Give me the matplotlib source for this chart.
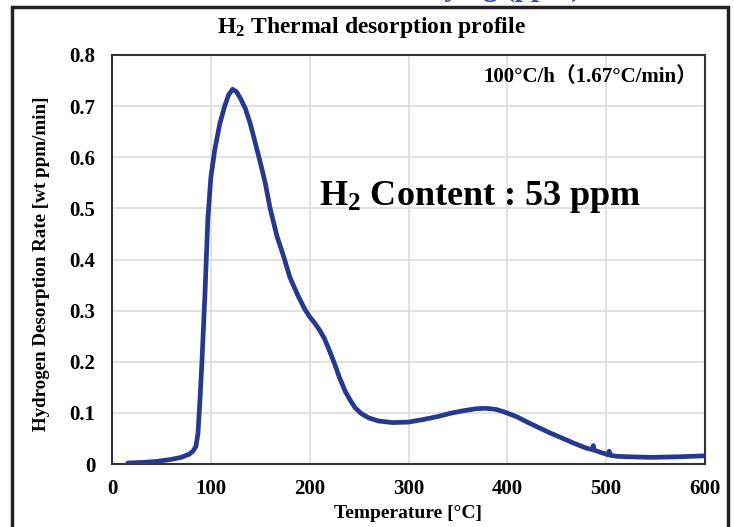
import matplotlib
matplotlib.use("Agg")
import matplotlib.pyplot as plt
from matplotlib.patches import Rectangle

plt.rcParams['font.family'] = ['Liberation Serif', 'Noto Sans CJK JP', 'DejaVu Sans']
plt.rcParams['font.weight'] = 'bold'
plt.rcParams['mathtext.fontset'] = 'custom'
plt.rcParams['mathtext.rm'] = 'Liberation Serif:bold'
plt.rcParams['mathtext.it'] = 'Liberation Serif:bold'
plt.rcParams['mathtext.bf'] = 'Liberation Serif:bold'

# ---- data ----
temperature = [16, 30, 45, 60, 70, 78, 82, 85, 87, 89, 91, 94, 97, 100, 104, 109,
               114, 118, 122, 126, 130, 135, 140, 145, 150, 155, 160, 167, 173, 180,
               188, 195, 200, 205, 210, 215, 220, 225, 230, 236, 241, 246, 252, 260,
               270, 284, 300, 315, 330, 342, 355, 368, 378, 388, 395, 402, 410, 420,
               432, 443, 455, 467, 480, 486, 487, 488, 494, 502, 503, 504, 511, 525,
               545, 572, 600]
rate = [0.002, 0.003, 0.005, 0.009, 0.013, 0.019, 0.025, 0.035, 0.06, 0.125, 0.2,
        0.33, 0.48, 0.56, 0.615, 0.665, 0.70, 0.722, 0.733, 0.728, 0.715, 0.695,
        0.665, 0.628, 0.59, 0.55, 0.50, 0.445, 0.41, 0.365, 0.33, 0.303, 0.288,
        0.276, 0.262, 0.245, 0.222, 0.197, 0.17, 0.142, 0.125, 0.11, 0.099, 0.09,
        0.084, 0.081, 0.082, 0.087, 0.093, 0.099, 0.104, 0.108, 0.109, 0.107,
        0.103, 0.098, 0.092, 0.082, 0.071, 0.061, 0.051, 0.041, 0.031, 0.028,
        0.036, 0.027, 0.023, 0.018, 0.025, 0.017, 0.015, 0.014, 0.013, 0.014, 0.016]
x_ticks = [0, 100, 200, 300, 400, 500, 600]
y_ticks = [0, 0.1, 0.2, 0.3, 0.4, 0.5, 0.6, 0.7, 0.8]
y_tick_labels = ['0', '0.1', '0.2', '0.3', '0.4', '0.5', '0.6', '0.7', '0.8']

W, H = 734, 527
fig = plt.figure(figsize=(W / 100, H / 100), dpi=100)
ax = fig.add_axes([112 / W, 1 - 464 / H, (705 - 112) / W, (464 - 55) / H])

ax.plot(temperature, rate, color='#27398C', lw=3.4, solid_capstyle='round',
        solid_joinstyle='round', zorder=3)

ax.set_xlim(0, 600)
ax.set_ylim(0, 0.8)
ax.set_xticks(x_ticks)
ax.set_yticks(y_ticks)
ax.set_yticklabels(y_tick_labels)
ax.tick_params(length=0, labelsize=15)
ax.tick_params(axis='y', pad=12)
ax.tick_params(axis='x', pad=11)
for lab in ax.get_xticklabels() + ax.get_yticklabels():
    lab.set_fontweight('bold')
ax.grid(True, color='#dcdcdc', lw=1.2, zorder=0)
ax.set_axisbelow(True)
for s in ax.spines.values():
    s.set_color('#333333')
    s.set_linewidth(1.5)

fig.text(408 / W, 1 - 514 / H, 'Temperature [°C]', ha='center', va='center',
         fontsize=14, fontweight='bold')
fig.text(42 / W, 1 - 264 / H, 'Hydrogen Desorption Rate [wt ppm/min]', ha='center',
         va='center', rotation=90, fontsize=13.7, fontweight='bold')

fig.text(371 / W, 1 - 27 / H, 'H$_2$ Thermal desorption profile', ha='center',
         va='center', fontsize=17, fontweight='bold')
fig.text(697 / W, 1 - 77 / H, '100°C/h（1.67°C/min）', ha='right',
         va='center', fontsize=15, fontweight='bold')
fig.text(319 / W, 1 - 197 / H, 'H$_2$ Content : 53 ppm', ha='left', va='center',
         fontsize=26, fontweight='bold')

# blue heading cut off at the top of the picture
fig.text(465 / W, 1 - 2 / H, 'after drying (ppm)', ha='center', va='bottom',
         fontsize=21, fontweight='bold', color='#3344AA')

# outer frame
fig.patches.append(Rectangle((12 / W, -0.1), (728 - 12) / W, 1.1 - 7 / H,
                             transform=fig.transFigure, fill=False,
                             edgecolor='#222222', lw=2.5))

fig.savefig('out.png', dpi=100)
